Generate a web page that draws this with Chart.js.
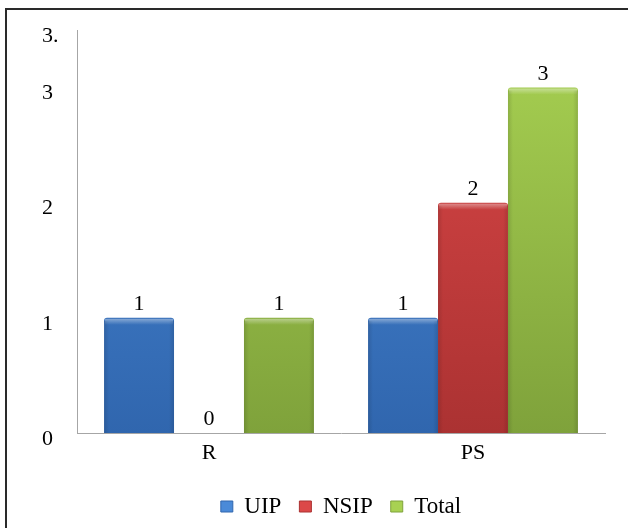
<!DOCTYPE html>
<html>
<head>
<meta charset="utf-8">
<script src="https://cdn.jsdelivr.net/npm/chart.js@4/dist/chart.umd.min.js"></script>
<style>
  html, body { margin: 0; padding: 0; background: #fff; }
  #wrap { position: relative; width: 628px; height: 528px; overflow: hidden; }
  #frame { position: absolute; left: 5px; top: 8px; width: 640px; height: 540px;
           border-top: 2px solid #2a2a2a; border-left: 2px solid #2a2a2a; box-sizing: border-box; pointer-events: none; }
  canvas { position: absolute; left: 0; top: 0; }
</style>
</head>
<body>
<div id="wrap">
  <canvas id="c" width="628" height="528"></canvas>
  <div id="frame"></div>
</div>
<script>
// Categories, series and axis labels
const categories = ['R', 'PS'];
const seriesNames = ['UIP', 'NSIP', 'Total'];
const uipValues = [1, 1];
const nsipValues = [0, 2];
const totalValues = [1, 3];
const yTickValues = [0, 1, 2, 3, 3.5];
const yTickLabels = ['0', '1', '2', '3', '3.'];

// Fill colours: [top, bottom] for each series
const palettes = [
  ['#4a8ad8', '#3066ae'],
  ['#dc4848', '#ab3232'],
  ['#a8d152', '#7fa23b']
];

const serif = '"Liberation Serif", "Times New Roman", serif';
const fontSize = 22;
const legendFontSize = 23;

function gradientFill(idx) {
  return function (ctx) {
    const chart = ctx.chart;
    const area = chart.chartArea;
    if (!area) return palettes[idx][0];
    const g = chart.ctx.createLinearGradient(0, area.top, 0, area.bottom);
    g.addColorStop(0, palettes[idx][0]);
    g.addColorStop(1, palettes[idx][1]);
    return g;
  };
}

// Soft bevel highlight on each bar plus the value labels above them
const barDecor = {
  id: 'barDecor',
  afterDatasetsDraw(chart) {
    const ctx = chart.ctx;
    chart.data.datasets.forEach((ds, di) => {
      const meta = chart.getDatasetMeta(di);
      meta.data.forEach((bar, i) => {
        const v = ds.data[i];
        const h = bar.base - bar.y;
        const left = bar.x - bar.width / 2;
        if (h > 2) {
          ctx.save();
          let g = ctx.createLinearGradient(0, bar.y, 0, bar.y + 7);
          g.addColorStop(0, 'rgba(255,255,255,0.45)');
          g.addColorStop(1, 'rgba(255,255,255,0)');
          ctx.fillStyle = g;
          ctx.fillRect(left + 1, bar.y + 1, bar.width - 2, 7);
          g = ctx.createLinearGradient(left, 0, left + 5, 0);
          g.addColorStop(0, 'rgba(0,0,0,0.12)');
          g.addColorStop(1, 'rgba(0,0,0,0)');
          ctx.fillStyle = g;
          ctx.fillRect(left, bar.y + 3, 5, h - 3);
          g = ctx.createLinearGradient(left + bar.width, 0, left + bar.width - 5, 0);
          g.addColorStop(0, 'rgba(0,0,0,0.12)');
          g.addColorStop(1, 'rgba(0,0,0,0)');
          ctx.fillStyle = g;
          ctx.fillRect(left + bar.width - 5, bar.y + 3, 5, h - 3);
          ctx.restore();
        }
        ctx.save();
        ctx.font = fontSize + 'px ' + serif;
        ctx.fillStyle = '#000';
        ctx.textAlign = 'center';
        ctx.textBaseline = 'alphabetic';
        ctx.fillText(String(v), bar.x, bar.y - 8);
        ctx.restore();
      });
    });
  }
};

const seriesValues = [uipValues, nsipValues, totalValues];

new Chart(document.getElementById('c'), {
  type: 'bar',
  data: {
    labels: categories,
    datasets: seriesNames.map((name, i) => ({
      label: name,
      data: seriesValues[i],
      backgroundColor: gradientFill(i),
      borderWidth: 0,
      borderRadius: { topLeft: 3, topRight: 3 },
      borderSkipped: 'bottom',
      categoryPercentage: 0.795,
      barPercentage: 1.0
    }))
  },
  options: {
    responsive: false,
    animation: false,
    devicePixelRatio: 1,
    layout: { padding: { top: 30, right: 23, bottom: 0, left: 42 } },
    plugins: {
      legend: {
        position: 'bottom',
        fullSize: false,
        labels: {
          font: { family: serif, size: legendFontSize },
          color: '#000',
          boxWidth: 12,
          boxHeight: 11,
          padding: 18,
          generateLabels(chart) {
            return chart.data.datasets.map((ds, i) => ({
              text: ds.label,
              fillStyle: palettes[i][0],
              strokeStyle: palettes[i][1],
              lineWidth: 1,
              datasetIndex: i
            }));
          }
        }
      },
      tooltip: { enabled: false }
    },
    scales: {
      x: {
        grid: { display: false, drawTicks: false },
        border: { display: true, color: '#a6a6a6', width: 1 },
        ticks: { font: { family: serif, size: fontSize }, color: '#000', padding: 7 },
        afterFit(scale) { scale.height = 44; }
      },
      y: {
        min: 0,
        max: 3.5,
        grid: { display: false, drawTicks: false },
        border: { display: true, color: '#a6a6a6', width: 1 },
        afterBuildTicks(scale) { scale.ticks = yTickValues.map(v => ({ value: v })); },
        ticks: {
          font: { family: serif, size: fontSize },
          color: '#000',
          crossAlign: 'far',
          labelOffset: 6,
          padding: 0,
          callback(value) {
            const k = yTickValues.indexOf(value);
            return k >= 0 ? yTickLabels[k] : '';
          }
        },
        afterFit(scale) { scale.width = 35; }
      }
    }
  },
  plugins: [barDecor]
});
</script>
</body>
</html>
